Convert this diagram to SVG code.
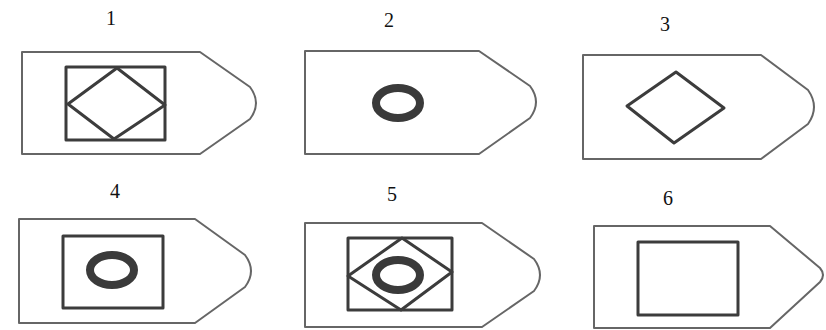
<svg xmlns="http://www.w3.org/2000/svg" width="826" height="330" viewBox="0 0 826 330">
<style>
.lbl{font-family:"Liberation Serif","Times New Roman",serif;font-size:20px;fill:#111;text-anchor:middle}
.tag{fill:#fff;stroke:#666;stroke-width:2;stroke-linejoin:round}
.sym{fill:none;stroke:#3c3c3c;stroke-width:3;stroke-linejoin:round}
.ring{fill:none;stroke:#3a3a3a;stroke-width:8}
</style>
<rect width="826" height="330" fill="#fff"/>
<g id="n1">
<text class="lbl" x="111" y="25">1</text>
<path class="tag" d="M22,52 L200,52 L250,87 Q262,103 250,119 L200,154 L22,154 Z"/>
<rect class="sym" x="66" y="67" width="99" height="73"/>
<path class="sym" d="M117,68 L165,105 L114,139 L68,104 Z"/>
</g>
<g id="n2">
<text class="lbl" x="389" y="27">2</text>
<path class="tag" d="M305,51 L479,51 L530,86 Q542,102 530,118 L479,154 L305,154 Z"/>
<ellipse class="ring" cx="398" cy="103" rx="22" ry="15"/>
</g>
<g id="n3">
<text class="lbl" x="665" y="31">3</text>
<path class="tag" d="M583,55 L761,55 L808,90 Q820,107 808,124 L761,159 L583,159 Z"/>
<path class="sym" d="M676,72 L724,108 L674,143 L627,106 Z"/>
</g>
<g id="n4">
<text class="lbl" x="115" y="198">4</text>
<path class="tag" d="M19,219 L195,219 L245,255 Q257,271 245,287 L195,323 L19,323 Z"/>
<rect class="sym" x="63" y="236" width="100" height="72"/>
<ellipse class="ring" cx="112" cy="270" rx="22" ry="15"/>
</g>
<g id="n5">
<text class="lbl" x="392" y="201">5</text>
<path class="tag" d="M305,223 L482,223 L534,259 Q546,275 534,291 L482,327 L305,327 Z"/>
<rect class="sym" x="348" y="238" width="104" height="72"/>
<path class="sym" d="M402,238 L452,272 L401,310 L348,276 Z"/>
<ellipse class="ring" cx="398" cy="275" rx="22" ry="15"/>
</g>
<g id="n6">
<text class="lbl" x="668" y="205">6</text>
<path class="tag" d="M594,226 L770,226 L820,268 Q826,275 820,282 L770,328 L594,328 Z"/>
<rect class="sym" x="638" y="242" width="100" height="73"/>
</g>
<g id="connectors"/>
</svg>
